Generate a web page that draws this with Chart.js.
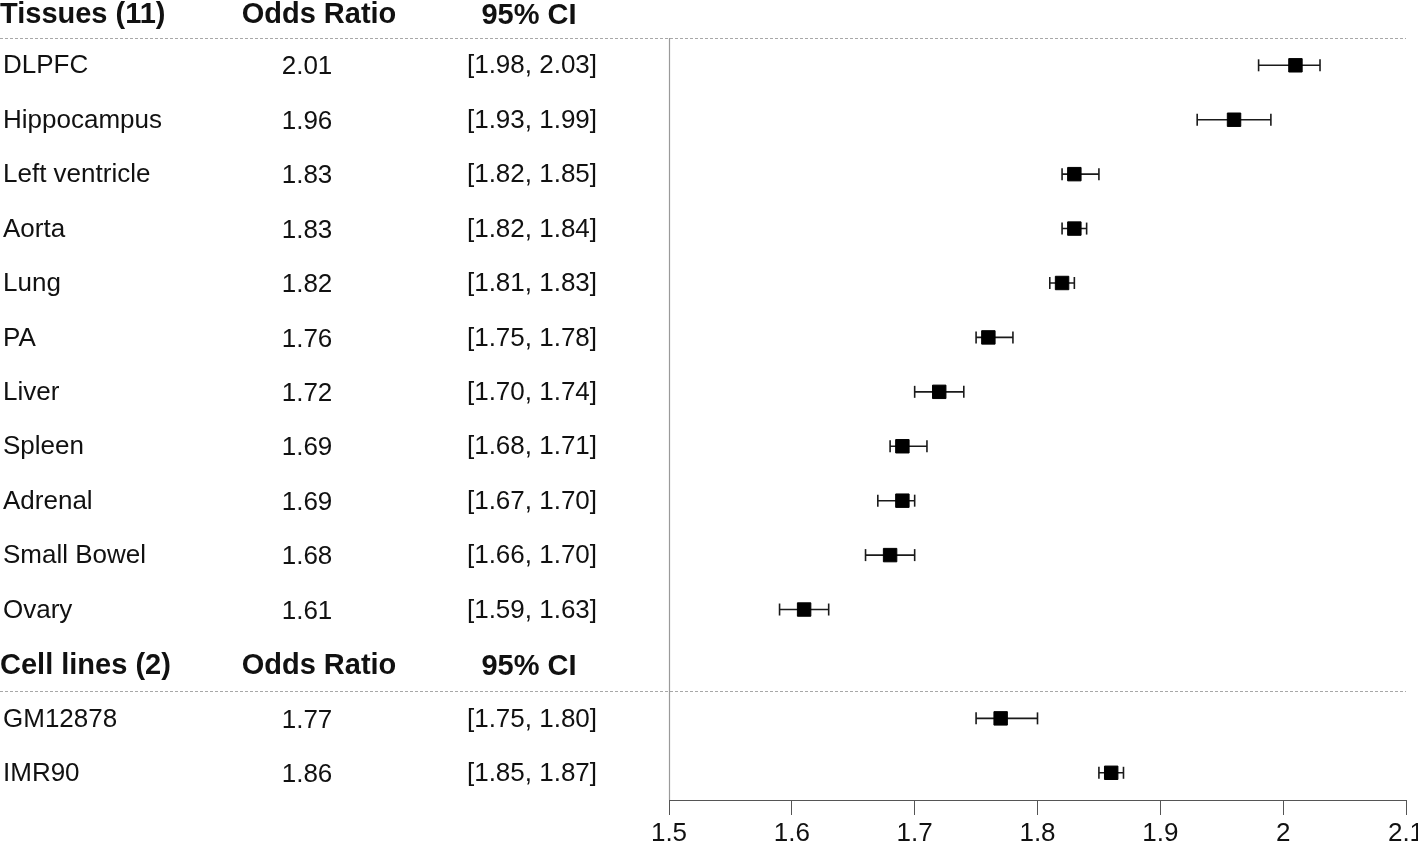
<!DOCTYPE html>
<html>
<head>
<meta charset="utf-8">
<script src="https://cdn.jsdelivr.net/npm/chart.js@4.4.0/dist/chart.umd.min.js"></script>
<style>
  html, body { margin: 0; padding: 0; background: #fff; overflow: hidden; }
  #wrap { width: 1418px; height: 847px; position: relative; }
</style>
</head>
<body>
<div id="wrap"><canvas id="c"></canvas></div>
<script>
// ---- data ----
const tissueNames = ["DLPFC", "Hippocampus", "Left ventricle", "Aorta", "Lung", "PA", "Liver", "Spleen", "Adrenal", "Small Bowel", "Ovary"];
const tissueOR    = [2.01, 1.96, 1.83, 1.83, 1.82, 1.76, 1.72, 1.69, 1.69, 1.68, 1.61];
const tissueLow   = [1.98, 1.93, 1.82, 1.82, 1.81, 1.75, 1.70, 1.68, 1.67, 1.66, 1.59];
const tissueHigh  = [2.03, 1.99, 1.85, 1.84, 1.83, 1.78, 1.74, 1.71, 1.70, 1.70, 1.63];

const cellNames = ["GM12878", "IMR90"];
const cellOR    = [1.77, 1.86];
const cellLow   = [1.75, 1.85];
const cellHigh  = [1.80, 1.87];

const tissueHeader = ["Tissues (11)", "Odds Ratio", "95% CI"];
const cellHeader   = ["Cell lines (2)", "Odds Ratio", "95% CI"];
const xTicks = [1.5, 1.6, 1.7, 1.8, 1.9, 2.0, 2.1];

// ---- rows (row index on y scale) ----
const rows = [];
rows.push({ header: tissueHeader, r: 0 });
tissueNames.forEach((n, i) => rows.push({ name: n, or: tissueOR[i], lo: tissueLow[i], hi: tissueHigh[i], r: 1 + i }));
rows.push({ header: cellHeader, r: 12 });
cellNames.forEach((n, i) => rows.push({ name: n, or: cellOR[i], lo: cellLow[i], hi: cellHigh[i], r: 13 + i }));

const dataRows = rows.filter(d => !d.header);
const squares = dataRows.map(d => ({ x: d.or, y: d.r }));
const whiskers = [];
dataRows.forEach(d => { whiskers.push({ x: d.lo, y: d.r }); whiskers.push({ x: d.hi, y: d.r }); whiskers.push({ x: null, y: null }); });

const FONT = "'Liberation Sans', Arial, Helvetica, sans-serif";

const tablePlugin = {
  id: 'table',
  beforeDatasetsDraw(chart) {
    const { ctx, chartArea, scales } = chart;
    const y = scales.y, x = scales.x;
    ctx.save();
    // dashed separators
    ctx.strokeStyle = '#a8a8a8';
    ctx.lineWidth = 1;
    ctx.setLineDash([3, 2]);
    [0.5, 12.5].forEach(v => {
      const py = Math.round(y.getPixelForValue(v)) + 0.5;
      ctx.beginPath(); ctx.moveTo(0, py); ctx.lineTo(chartArea.right, py); ctx.stroke();
    });
    ctx.setLineDash([]);
    // vertical reference line at axis start
    const vx = Math.round(x.getPixelForValue(x.min)) + 0.5;
    ctx.strokeStyle = '#9a9a9a';
    ctx.lineWidth = 1.2;
    ctx.beginPath(); ctx.moveTo(vx, y.getPixelForValue(0.5)); ctx.lineTo(vx, chartArea.bottom); ctx.stroke();

    // text
    ctx.fillStyle = '#111';
    ctx.textBaseline = 'middle';
    rows.forEach(d => {
      const py = y.getPixelForValue(d.r);
      if (d.header) {
        const off = d.r === 0 ? 4 : 2;
        ctx.font = "bold 29px " + FONT;
        ctx.textAlign = 'left';   ctx.fillText(d.header[0], 0, py + off);
        ctx.textAlign = 'center'; ctx.fillText(d.header[1], 319, py + off);
        ctx.fillText(d.header[2], 529, py + off + 1);
      } else {
        ctx.font = "26px " + FONT;
        ctx.textAlign = 'left';   ctx.fillText(d.name, 3, py + 1);
        ctx.textAlign = 'center'; ctx.fillText(d.or.toFixed(2), 307, py + 2);
        ctx.fillText('[' + d.lo.toFixed(2) + ', ' + d.hi.toFixed(2) + ']', 532, py + 1);
      }
    });
    ctx.restore();
  }
};

new Chart(document.getElementById('c'), {
  type: 'scatter',
  data: {
    datasets: [
      {
        label: 'OR',
        data: squares,
        pointStyle: 'rect',
        pointRadius: 9.5,
        pointHoverRadius: 9.5,
        backgroundColor: '#000',
        borderColor: '#000',
        borderWidth: 1,
        order: 0
      },
      {
        label: 'CI',
        type: 'line',
        data: whiskers,
        showLine: true,
        spanGaps: false,
        borderColor: '#1a1a1a',
        borderWidth: 1.6,
        pointStyle: 'line',
        rotation: 90,
        pointRadius: 6,
        pointHoverRadius: 6,
        pointBorderColor: '#1a1a1a',
        pointBorderWidth: 1.6,
        order: 1
      }
    ]
  },
  options: {
    responsive: true,
    maintainAspectRatio: false,
    animation: false,
    events: [],
    layout: { autoPadding: false, padding: { left: 669, right: 12, top: 0, bottom: 0 } },
    plugins: { legend: { display: false }, tooltip: { enabled: false } },
    scales: {
      x: {
        type: 'linear',
        min: 1.5, max: 2.1,
        afterBuildTicks: (s) => { s.ticks = xTicks.map(v => ({ value: v })); },
        afterFit: (s) => { s.paddingLeft = 0; s.paddingRight = 0; s.height = 47; },
        border: { display: true, color: '#555', width: 1 },
        grid: { display: true, drawOnChartArea: false, drawTicks: true, tickLength: 15, color: '#555', lineWidth: 1 },
        ticks: {
          color: '#111',
          font: { size: 26, family: FONT },
          padding: 3,
          maxRotation: 0,
          autoSkip: false,
          callback: (v) => String(Math.round(v * 10) / 10)
        }
      },
      y: {
        type: 'linear',
        display: false,
        reverse: true,
        min: -0.2, max: 14.5
      }
    }
  },
  plugins: [tablePlugin]
});
</script>
</body>
</html>
